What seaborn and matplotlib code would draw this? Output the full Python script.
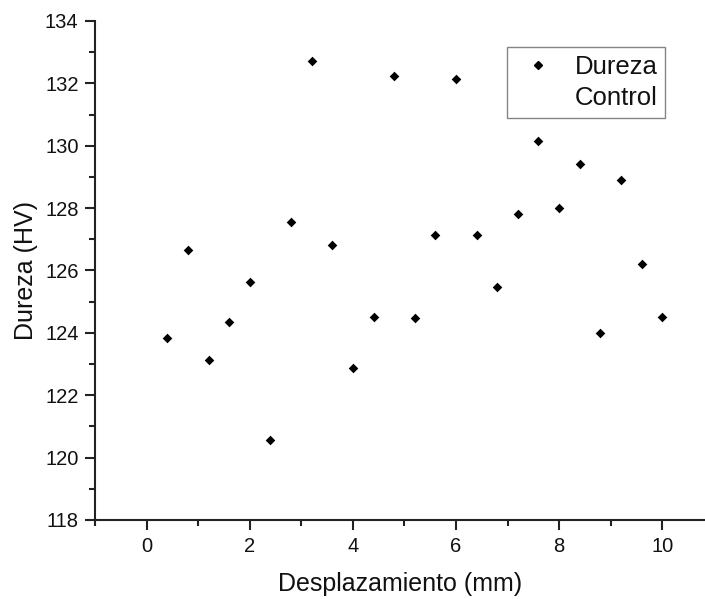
import matplotlib
matplotlib.use("Agg")
import matplotlib.pyplot as plt
import seaborn as sns
import pandas as pd
from matplotlib.lines import Line2D
from matplotlib.ticker import MultipleLocator

desplazamiento = [0.4, 0.8, 1.2, 1.6, 2.0, 2.4, 2.8, 3.2, 3.6, 4.0, 4.4, 4.8, 5.2,
                  5.6, 6.0, 6.4, 6.8, 7.2, 7.6, 8.0, 8.4, 8.8, 9.2, 9.6, 10.0]
dureza = [123.84, 126.66, 123.13, 124.35, 125.63, 120.57, 127.56, 132.72, 126.82,
          122.87, 124.51, 132.24, 124.48, 127.14, 132.14, 127.14, 125.47, 127.81,
          130.15, 128.0, 129.42, 124.0, 128.9, 126.21, 124.51]
legend_labels = ["Dureza", "Control"]

df = pd.DataFrame({"x": desplazamiento, "y": dureza})

sns.set_style("ticks")
plt.rcParams['font.family'] = ['Liberation Sans', 'DejaVu Sans']

fig = plt.figure(figsize=(7.05, 5.99), dpi=100)
ax = fig.add_axes([0.135, 0.132, 0.865, 0.833])

sns.scatterplot(data=df, x="x", y="y", ax=ax, marker="D", s=24, color="black",
                linewidth=0)

ax.set_xlim(-1, 10.83)
ax.set_ylim(118, 134)
ax.xaxis.set_major_locator(MultipleLocator(2))
ax.xaxis.set_minor_locator(MultipleLocator(1))
ax.yaxis.set_major_locator(MultipleLocator(2))
ax.yaxis.set_minor_locator(MultipleLocator(1))

for s in ["top", "right"]:
    ax.spines[s].set_visible(False)
for s in ["left", "bottom"]:
    ax.spines[s].set_linewidth(1.5)
    ax.spines[s].set_color("#222222")

ax.tick_params(which="major", direction="out", length=7, width=1.5, labelsize=14.5,
               color="#222222", pad=5, labelcolor="#111111")
ax.tick_params(which="minor", direction="out", length=4, width=1.5, color="#222222")

ax.set_xlabel("Desplazamiento (mm)", fontsize=18, labelpad=12, color="#111111")
ax.set_ylabel("Dureza (HV)", fontsize=18, labelpad=5, color="#111111")

handles = [Line2D([], [], marker="D", linestyle="none", color="black", markersize=4),
           Line2D([], [], linestyle="none", marker=None)]
leg = ax.legend(handles, legend_labels, loc="upper left",
                bbox_to_anchor=(0.675, 0.948), borderaxespad=0, fontsize=18.5,
                frameon=True, fancybox=False, edgecolor="#666666",
                handletextpad=0.55, labelspacing=0.3, borderpad=0.3,
                handlelength=1.8)
leg.get_frame().set_linewidth(1.0)
for t in leg.get_texts():
    t.set_color("#111111")

fig.savefig("out.png", dpi=100)
